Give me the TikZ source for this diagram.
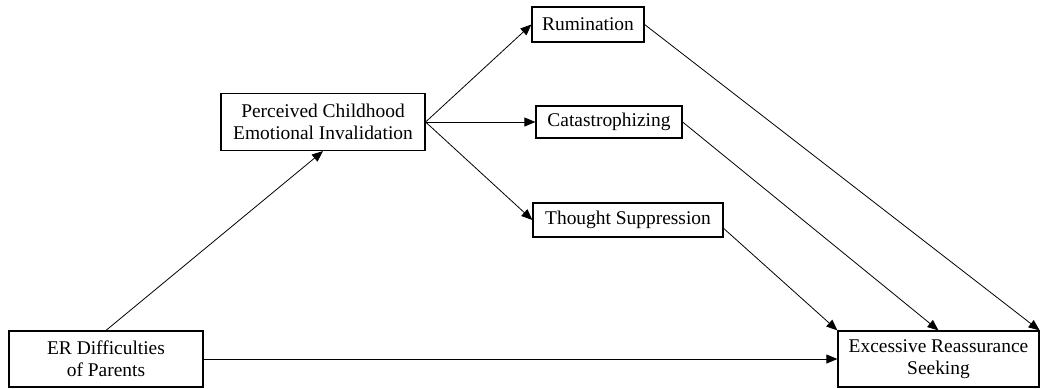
\documentclass[tikz,border=0pt]{standalone}
\usepackage{fontspec}
\setmainfont{Liberation Serif}
\usetikzlibrary{arrows.meta}
\begin{document}
\begin{tikzpicture}[x=1bp,y=-1bp,
  box/.style={draw,line width=1.2bp,inner sep=0pt,align=center,
    font=\fontsize{19.5}{22}\selectfont},
  conn/.style={line width=0.8bp,-{Triangle[length=11bp,width=9bp]}}]
\useasboundingbox (0,0) rectangle (1040,388);
\node[box,minimum width=194bp,minimum height=56bp] (er) at (106,359) {ER Difficulties\\of Parents};
\node[box,minimum width=204bp,minimum height=57bp] (pc) at (323,122) {Perceived Childhood\\Emotional Invalidation};
\node[box,minimum width=112bp,minimum height=35bp] (ru) at (588,24.5) {Rumination};
\node[box,minimum width=146bp,minimum height=32bp] (ca) at (609,122) {Catastrophizing};
\node[box,minimum width=190bp,minimum height=34bp] (ts) at (628,220) {Thought Suppression};
\node[box,minimum width=201bp,minimum height=56bp] (ex) at (938.5,359) {Excessive Reassurance\\Seeking};
\draw[conn] (er.north) -- (pc.south);
\draw[conn] (pc.east) -- (ru.west);
\draw[conn] (pc.east) -- (ca.west);
\draw[conn] (pc.east) -- (ts.west);
\draw[conn] (er.east) -- (ex.west);
\draw[conn] (ru.east) -- (ex.north east);
\draw[conn] (ca.east) -- (ex.north);
\draw[conn] (ts.-5) -- (ex.north west);
\end{tikzpicture}
\end{document}
